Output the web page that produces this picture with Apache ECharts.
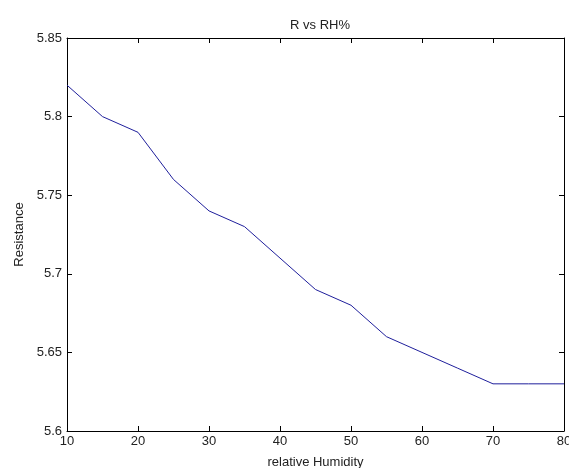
<!DOCTYPE html>
<html>
<head>
<meta charset="utf-8">
<script src="https://cdn.jsdelivr.net/npm/echarts@6/dist/echarts.min.js"></script>
<style>
  html, body { margin: 0; padding: 0; background: #fff; }
  #chart { width: 569px; height: 468px; }
</style>
</head>
<body>
<div id="chart"></div>
<script>
// relative humidity (x) and resistance (y)
var humidity = [10, 15, 20, 25, 30, 35, 40, 45, 50, 55, 60, 65, 70, 75, 80];
var resistance = [5.82, 5.80, 5.79, 5.76, 5.74, 5.73, 5.71, 5.69, 5.68, 5.66, 5.65, 5.64, 5.63, 5.63, 5.63];

var chart = echarts.init(document.getElementById("chart"));

var font = "Liberation Sans";
var axisCol = "#000";
var txtCol = "#222";

// shared tick style, ticks point inward like matlab
var tick = { show: true, inside: true, length: 5, lineStyle: { color: axisCol, width: 1 } };

var option = {
  backgroundColor: "#fff",
  animation: false,
  title: {
    text: "R vs RH%",
    left: 315,
    top: 14,
    textAlign: "center",
    textStyle: { fontFamily: font, fontSize: 13, fontWeight: "normal", color: txtCol },
  },
  // keep the box fixed, the "80" label gets cut at the edge like the original
  grid: { left: 67, right: 5, top: 38, bottom: 37, containLabel: false, outerBoundsMode: "none" },
  xAxis: [
    {
      type: "value",
      min: 10,
      max: 80,
      interval: 10,
      name: "relative Humidity",
      nameLocation: "middle",
      nameGap: 25,
      nameTextStyle: { fontFamily: font, fontSize: 13, color: txtCol },
      axisLine: { lineStyle: { color: axisCol, width: 1 } },
      axisTick: tick,
      axisLabel: { fontFamily: font, fontSize: 13, color: txtCol, margin: 4 },
      splitLine: { show: false },
    },
    {
      type: "value",
      position: "top",
      min: 10,
      max: 80,
      interval: 10,
      axisLine: { show: true, lineStyle: { color: axisCol, width: 1 } },
      axisTick: tick,
      axisLabel: { show: false },
      splitLine: { show: false },
    },
  ],
  yAxis: [
    {
      type: "value",
      min: 5.6,
      max: 5.85,
      interval: 0.05,
      name: "Resistance",
      nameLocation: "middle",
      nameGap: 40,
      nameTextStyle: { fontFamily: font, fontSize: 13, color: txtCol },
      axisLine: { show: true, lineStyle: { color: axisCol, width: 1 } },
      axisTick: tick,
      axisLabel: { fontFamily: font, fontSize: 13, color: txtCol, margin: 5 },
      splitLine: { show: false },
    },
    {
      type: "value",
      position: "right",
      min: 5.6,
      max: 5.85,
      interval: 0.05,
      axisLine: { show: true, lineStyle: { color: axisCol, width: 1 } },
      axisTick: tick,
      axisLabel: { show: false },
      splitLine: { show: false },
    },
  ],
  series: [
    {
      type: "line",
      data: humidity.map(function (h, i) { return [h, resistance[i]]; }),
      symbol: "none",
      lineStyle: { color: "#1f1f9c", width: 1 },
    },
  ],
};

chart.setOption(option);
</script>
</body>
</html>
